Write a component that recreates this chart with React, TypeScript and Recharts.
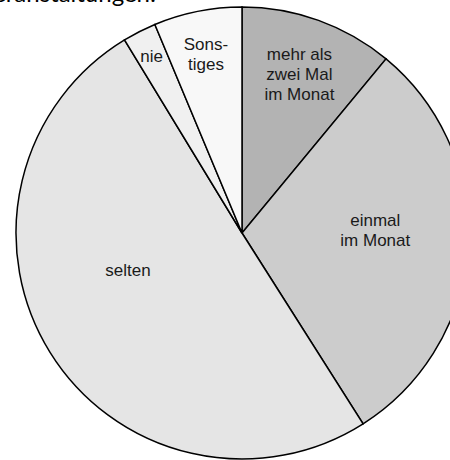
import { PieChart, Pie, Cell } from "recharts"

const categories = ["mehr als zwei Mal im Monat", "einmal im Monat", "selten", "nie", "Sonstiges"]
const shares = [11, 30, 50.3, 2.4, 6.3]
const labelLines = [
  ["mehr als", "zwei Mal", "im Monat"],
  ["einmal", "im Monat"],
  ["selten"],
  ["nie"],
  ["Sons-", "tiges"],
]

const colors = ["#b3b3b3", "#cccccc", "#e5e5e5", "#f0f0f0", "#f8f8f8"]
// label placement per slice: radius fraction and angle shift (deg, counter-clockwise)
const labelRadius = [0.75, 0.59, 0.53, 0.88, 0.81]
const labelShift = [0, 5, -14, 0, 0]

const data = categories.map((name, i) => ({ name, value: shares[i] }))

const RAD = Math.PI / 180

const renderLabel = (props: any) => {
  const { cx, cy, midAngle, outerRadius, index } = props
  const r = outerRadius * labelRadius[index]
  const a = (midAngle + labelShift[index]) * RAD
  const x = cx + r * Math.cos(a)
  const y = cy - r * Math.sin(a)
  const lines = labelLines[index]
  const lh = 20
  const top = y - ((lines.length - 1) * lh) / 2
  return (
    <text
      x={x}
      y={top}
      textAnchor="middle"
      dominantBaseline="central"
      fontFamily="Liberation Sans Narrow, Liberation Sans, Arial, sans-serif"
      fontSize={17}
      fill="#1a1a1a"
    >
      {lines.map((l, k) => (
        <tspan key={k} x={x} y={top + k * lh}>
          {l}
        </tspan>
      ))}
    </text>
  )
}

export default function App() {
  return (
    <div style={{ position: "absolute", left: 0, top: 0, width: 450, height: 460, background: "#fff" }}>
      <PieChart width={450} height={460} margin={{ top: 0, right: 0, bottom: 0, left: 0 }}>
        <text x={156} y={2} textAnchor="end" fontFamily="Lato, sans-serif" fontSize={24} fill="#000">
          Veranstaltungen:
        </text>
        <Pie
          data={data}
          dataKey="value"
          nameKey="name"
          cx={242}
          cy={233}
          outerRadius={226}
          startAngle={90}
          endAngle={-270}
          stroke="#000"
          strokeWidth={1.5}
          label={renderLabel}
          labelLine={false}
          isAnimationActive={false}
        >
          {data.map((d, i) => (
            <Cell key={d.name} fill={colors[i]} />
          ))}
        </Pie>
      </PieChart>
    </div>
  )
}
